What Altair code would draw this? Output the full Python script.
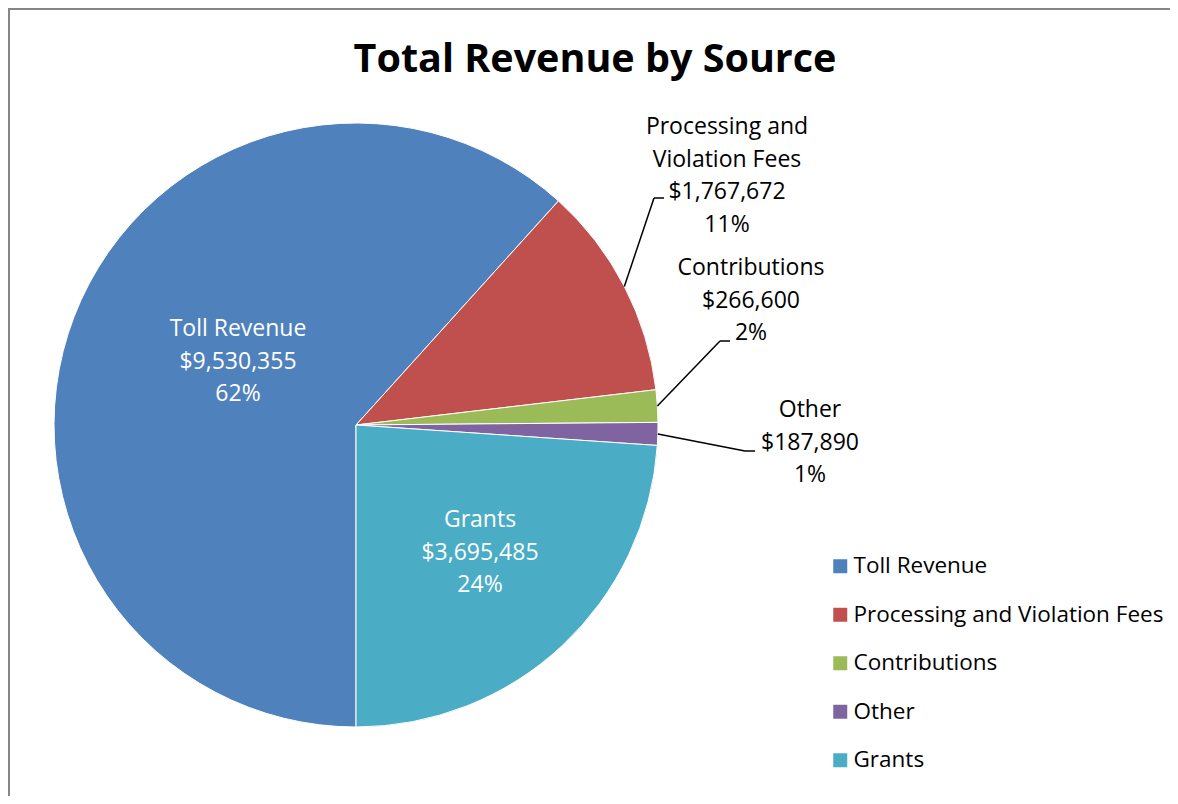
import math
import altair as alt
import pandas as pd

# ---------------- data ----------------
categories = ["Toll Revenue", "Processing and Violation Fees", "Contributions", "Other", "Grants"]
label_names = ["Toll Revenue", "Processing and\nViolation Fees", "Contributions", "Other", "Grants"]
values = [9530355, 1767672, 266600, 187890, 3695485]
colors = ["#4F81BD", "#C0504D", "#9BBB59", "#8064A2", "#4BACC6"]

# ---------------- layout (style, not data) ----------------
W, H = 1162, 788           # whole view (page margin 8px)
CX, CY, R = 348, 417, 302  # pie centre and radius in view pixels
FONT = "Open Sans"
FS = 23
# first label line centre, relative to pie centre
LABEL_OFFSET = {
    "Toll Revenue": (-118, -96),
    "Processing and Violation Fees": (371, -298),
    "Contributions": (395, -157),
    "Other": (454, -15),
    "Grants": (124, 95),
}
INSIDE = {"Toll Revenue", "Grants"}
# leader elbow relative to pie centre, followed by a short horizontal tail
LEADER_ELBOW = {
    "Processing and Violation Fees": (298, -227),
    "Contributions": (364, -84),
    "Other": (389, 26),
}
TAIL = 10

total = sum(values)
rows = []
cum = 0.0
for i, (c, ln, v) in enumerate(zip(categories, label_names, values)):
    mid = math.pi + 2 * math.pi * (cum + v / 2) / total
    cum += v
    pct = round(v / total * 100)
    ex = CX + R * math.sin(mid)
    ey = CY - R * math.cos(mid)
    dx, dy = LABEL_OFFSET[c]
    row = dict(
        idx=i, category=c, value=v,
        label=f"{ln}\n${v:,}\n{pct}%",
        lx=CX + dx, ly=CY + dy,
        inside=c in INSIDE,
        ex=ex, ey=ey,
    )
    if c in LEADER_ELBOW:
        bx, by = LEADER_ELBOW[c]
        row.update(bx=CX + bx, by=CY + by, tx=CX + bx + TAIL)
    rows.append(row)
df = pd.DataFrame(rows)

base = alt.Chart(df)

pie = base.mark_arc(radius=R, stroke="white", strokeWidth=1).encode(
    theta=alt.Theta("value:Q", stack=True, scale=alt.Scale(range=[math.pi, 3 * math.pi])),
    color=alt.Color(
        "category:N",
        scale=alt.Scale(domain=categories, range=colors),
        legend=alt.Legend(
            orient="none", legendX=821, legendY=547, title=None,
            symbolType="square", symbolSize=196, symbolStrokeWidth=0,
            labelFont=FONT, labelFontSize=22.5, labelColor="black",
            rowPadding=25.5, labelOffset=2, padding=0, labelLimit=500,
        ),
    ),
    order=alt.Order("idx:Q"),
    x=alt.value(CX),
    y=alt.value(CY),
)

text_common = dict(lineBreak="\n", fontSize=FS, font=FONT, lineHeight=32.5,
                   baseline="middle", align="center")
txt_in = base.transform_filter("datum.inside").mark_text(color="white", **text_common).encode(
    x=alt.X("lx:Q", scale=None, axis=None), y=alt.Y("ly:Q", scale=None, axis=None), text="label:N")
txt_out = base.transform_filter("!datum.inside").mark_text(color="black", **text_common).encode(
    x=alt.X("lx:Q", scale=None, axis=None), y=alt.Y("ly:Q", scale=None, axis=None), text="label:N")

lead1 = base.transform_filter("!datum.inside").mark_rule(color="black", strokeWidth=1.5).encode(
    x=alt.X("ex:Q", scale=None, axis=None), y=alt.Y("ey:Q", scale=None, axis=None),
    x2="bx:Q", y2="by:Q")
lead2 = base.transform_filter("!datum.inside").mark_rule(color="black", strokeWidth=1.5).encode(
    x=alt.X("bx:Q", scale=None, axis=None), y=alt.Y("by:Q", scale=None, axis=None),
    x2="tx:Q")

border_top = base.mark_rule(color="#868686", strokeWidth=2).encode(
    x=alt.value(0), x2=alt.value(W), y=alt.value(1))
border_left = base.mark_rule(color="#868686", strokeWidth=2).encode(
    x=alt.value(1), y=alt.value(0), y2=alt.value(H))

chart = alt.layer(border_top, border_left, pie, lead1, lead2, txt_in, txt_out).properties(
    width=W, height=H,
    autosize="none", padding=0,
    title=alt.Title("Total Revenue by Source", font=FONT, fontSize=39.5, fontWeight="bold",
                    color="black", anchor="middle", baseline="alphabetic", offset=-104, dx=6),
    background="white",
).configure_view(stroke=None)

chart.save("out.html", embed_options={"renderer": "svg", "actions": False})
